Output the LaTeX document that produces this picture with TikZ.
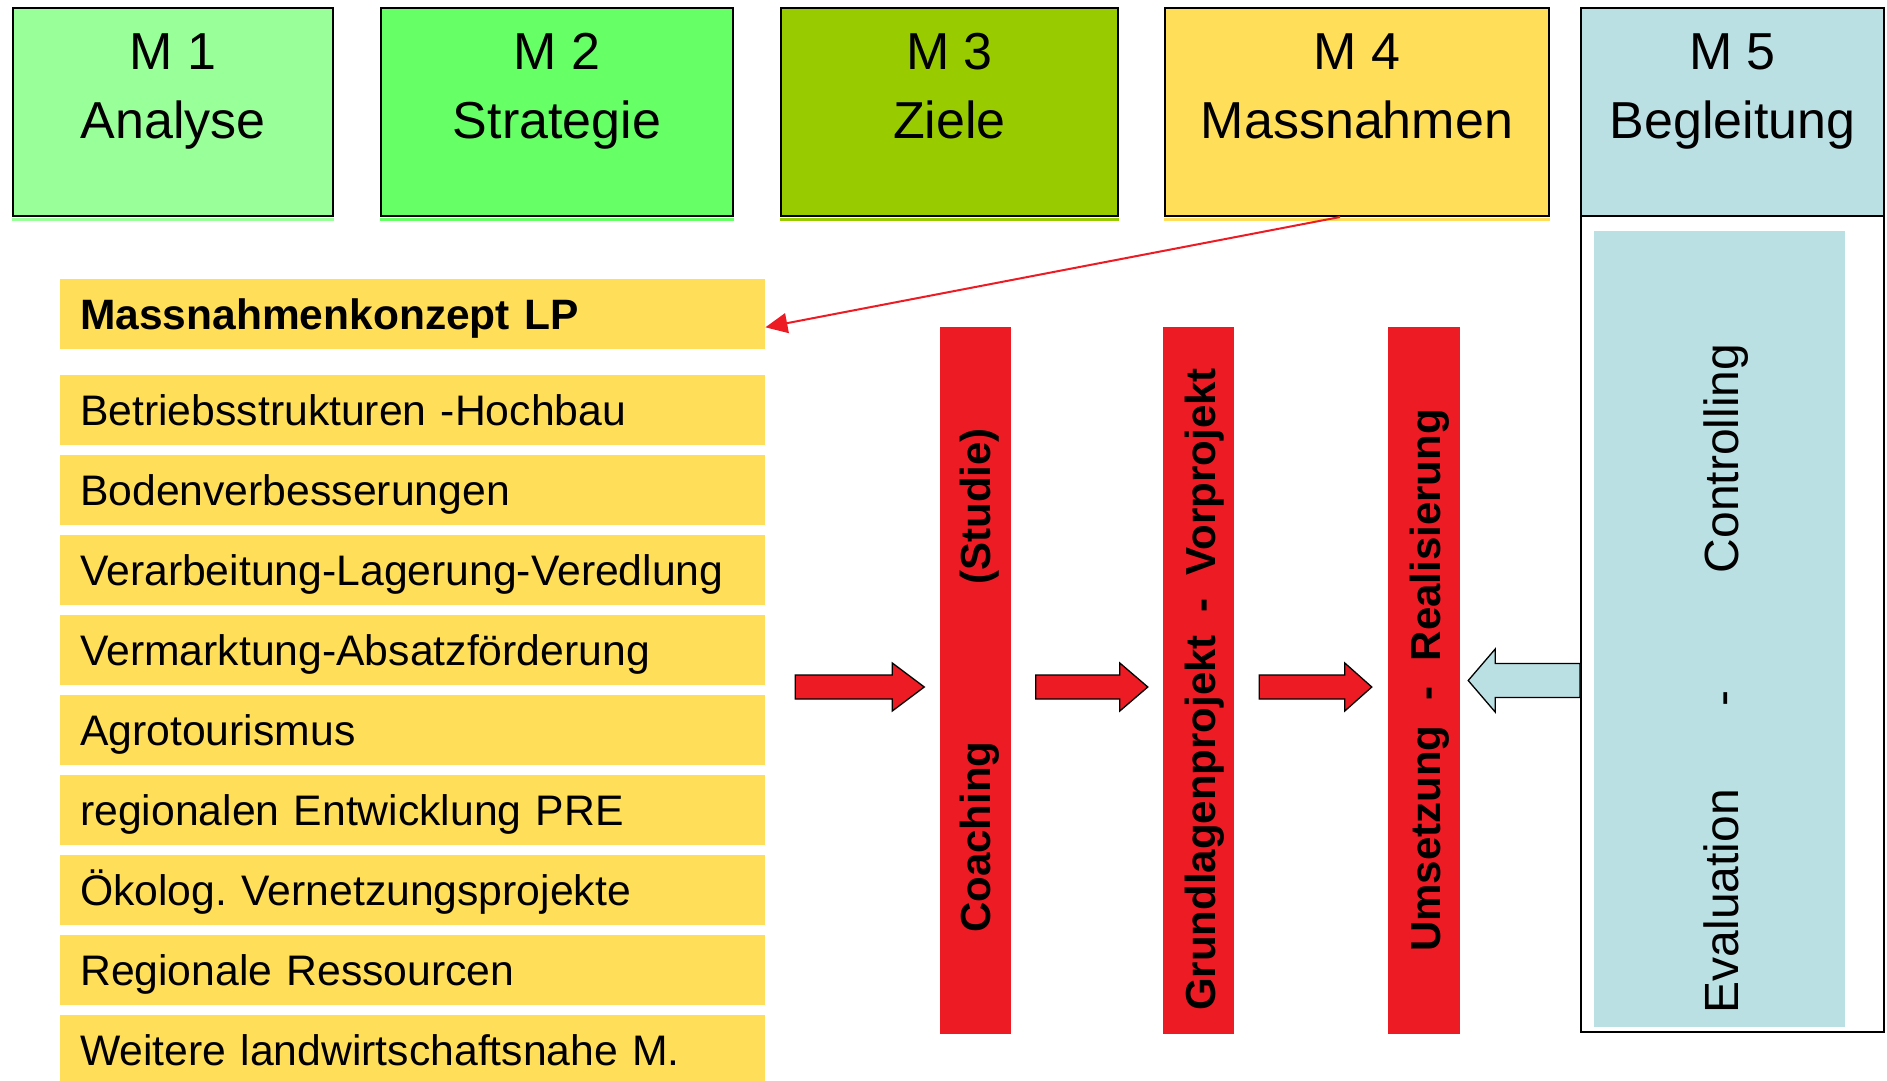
\documentclass[tikz,border=0pt]{standalone}
\usepackage{fontspec}
\setmainfont{Liberation Sans}
\usetikzlibrary{arrows.meta,calc}
\frenchspacing

\definecolor{gA}{HTML}{99FF99}
\definecolor{gB}{HTML}{66FF66}
\definecolor{gC}{HTML}{99CC00}
\definecolor{yel}{HTML}{FFDE59}
\definecolor{aqua}{HTML}{BBE0E3}
\definecolor{rd}{HTML}{ED1C24}

% block arrow from tail point to tip point (same height);
% #4 shaft half width, #5 head half width, #6 signed head length
\newcommand\blockarrow[6][]{%
  \draw[#1] let \p1=(#2), \p2=(#3) in
    ({\x1},{\y1+#4}) -- ({\x2-(#6)},{\y1+#4}) -- ({\x2-(#6)},{\y1+#5}) -- ({\x2},{\y1})
    -- ({\x2-(#6)},{\y1-#5}) -- ({\x2-(#6)},{\y1-#4}) -- ({\x1},{\y1-#4}) -- cycle;}

\begin{document}
\begin{tikzpicture}[x=1pt,y=-1pt,
  headbox/.style={draw=black, line width=2pt, fill=#1, minimum height=208pt,
    inner sep=0pt, anchor=north west},
  headtxt/.style={font=\fontsize{52}{62}\selectfont, anchor=base, inner sep=0pt},
  item/.style={fill=yel, anchor=north west, minimum height=70pt,
    text width=665pt, inner xsep=20pt, inner ysep=0pt, align=left,
    text height=39pt, text depth=9pt, font=\fontsize{42.7}{50}\selectfont},
  bar/.style={fill=rd, inner sep=0pt, minimum height=707pt},
  vtext/.style={rotate=90, inner sep=0pt, text height=39pt, text depth=9pt,
    font=\fontsize{42}{50}\selectfont\bfseries},
  redarrow/.style={draw=black, line width=1.3pt, fill=rd, line join=miter},
  bluearrow/.style={draw=black, line width=1.3pt, fill=aqua, line join=miter}
]
\useasboundingbox (0,0) rectangle (1887,1080);

% phase headers
\node[headbox=gA, minimum width=320pt] (m1) at (12,7) {};
\node[headbox=gB, minimum width=352pt] (m2) at (380,7) {};
\node[headbox=gC, minimum width=337pt] (m3) at (780,7) {};
\node[headbox=yel, minimum width=384pt] (m4) at (1164,7) {};
\node[headbox=aqua, minimum width=303pt] (m5) at (1580,7) {};
\foreach \n/\c in {m1/gA, m2/gB, m3/gC, m4/yel}
  \fill[\c] ([yshift=-1pt]\n.south west) rectangle ([yshift=-4pt]\n.south east);

\node[headtxt] at (m1.north |- 0,69) {M 1};
\node[headtxt] at (m1.north |- 0,138) {Analyse};
\node[headtxt] at (m2.north |- 0,69) {M 2};
\node[headtxt] at (m2.north |- 0,138) {Strategie};
\node[headtxt] at (m3.north |- 0,69) {M 3};
\node[headtxt] at (m3.north |- 0,138) {Ziele};
\node[headtxt] at (m4.north |- 0,69) {M 4};
\node[headtxt] at (m4.north |- 0,138) {Massnahmen};
\node[headtxt] at (m5.north |- 0,69) {M 5};
\node[headtxt] at (m5.north |- 0,138) {Begleitung};

% list of measures
\node[item, font=\fontsize{42.5}{50}\selectfont\bfseries] (title) at (60,279) {Massnahmenkonzept LP};
\node[item] (it1) at (60,375) {Betriebsstrukturen -Hochbau};
\node[item] (it2) at (60,455) {Bodenverbesserungen};
\node[item] (it3) at (60,535) {Verarbeitung-Lagerung-Veredlung};
\node[item] (it4) at (60,615) {Vermarktung-Absatzförderung};
\node[item] (it5) at (60,695) {Agrotourismus};
\node[item] (it6) at (60,775) {regionalen Entwicklung PRE};
\node[item] (it7) at (60,855) {Ökolog. Vernetzungsprojekte};
\node[item] (it8) at (60,935) {Regionale Ressourcen};
\node[item] (it9) at (60,1015) {Weitere landwirtschaftsnahe M.};

\draw[rd, line width=2pt, -{Triangle[length=22pt,width=20pt]}]
  ($(m4.south west)!0.456!(m4.south east)$) -- ($(title.north east)!0.686!(title.south east)$);

% project stages
\node[bar, minimum width=71pt] (coach) at (975.5,680.5) {};
\node[bar, minimum width=71pt] (grund) at (1198.5,680.5) {};
\node[bar, minimum width=72pt] (umsetz) at (1424,680.5) {};

\node[vtext] at (coach.center) {Coaching\hspace{157pt}(Studie)};
\node[vtext] at ($(grund.center)+(1.5,9)$) {Grundlagenprojekt\hspace{0.55em}-\hspace{0.55em}Vorprojekt};
\node[vtext] at ($(umsetz.center)+(1,0)$) {Umsetzung\hspace{0.6em}-\hspace{0.6em}Realisierung};

% accompanying frame
\node[draw=black, line width=2pt, minimum width=303pt, minimum height=816pt,
  inner sep=0pt, anchor=north west] (m5frame) at (1580,215) {};
\node[fill=aqua, minimum width=251pt, minimum height=796pt, inner sep=0pt,
  anchor=north west] (m5in) at (1594,231) {};
\node[rotate=90, inner sep=0pt, text height=44.4pt, text depth=10pt,
  font=\fontsize{48}{56}\selectfont] at (1721,678.5)
  {Evaluation\hspace{83pt}-\hspace{117pt}Controlling};

% flow arrows
\blockarrow[redarrow]{$(coach.west)+(-144.5,6.5)$}{$(coach.west)+(-15.5,6.5)$}{12pt}{24pt}{32pt}
\blockarrow[redarrow]{$(coach.east)+(24.6,6.5)$}{$(grund.west)+(-15,6.5)$}{12pt}{24pt}{28pt}
\blockarrow[redarrow]{$(grund.east)+(25,6.5)$}{$(umsetz.west)+(-16,6.5)$}{12pt}{24pt}{27pt}
\blockarrow[bluearrow]{$(m5frame.west)+(0,56.5)$}{$(umsetz.east)+(8,-1)$}{17pt}{31.5pt}{-27pt}

\end{tikzpicture}
\end{document}
